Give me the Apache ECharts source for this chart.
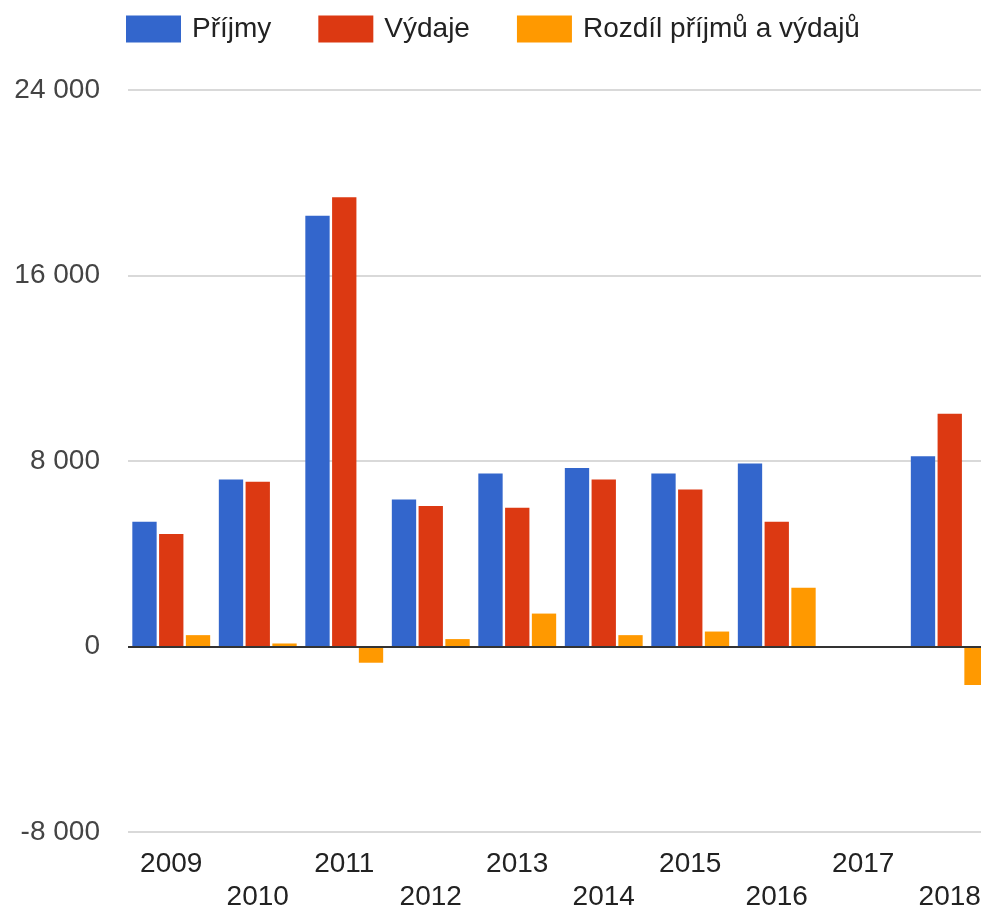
<!DOCTYPE html>
<html>
<head>
<meta charset="utf-8">
<script src="https://cdn.jsdelivr.net/npm/echarts@6/dist/echarts.min.js"></script>
<style>html,body{margin:0;padding:0;background:#fff}#c{width:981px;height:910px}</style>
</head>
<body>
<div id="c"></div>
<script>
const years = ['2009','2010','2011','2012','2013','2014','2015','2016','2017','2018'];
const prijmy = [5380, 7200, 18580, 6340, 7460, 7700, 7460, 7890, 0, 8200];
const vydaje = [4850, 7100, 19370, 6060, 5980, 7200, 6770, 5380, 0, 10040];
const rozdil = [490, 130, -700, 320, 1420, 490, 645, 2530, 20, -1660];
const seriesNames = ['Příjmy', 'Výdaje', 'Rozdíl příjmů a výdajů'];
const colors = ['#3366cc', '#dc3912', '#ff9900'];

const fmt = v => {
  const s = Math.abs(v).toString().replace(/\B(?=(\d{3})+(?!\d))/g, ' ');
  return (v < 0 ? '-' : '') + s;
};

const chart = echarts.init(document.getElementById('c'));
const data = [prijmy, vydaje, rozdil];
chart.setOption({
  animation: false,
  color: colors,
  textStyle: { fontFamily: 'Arial, "Liberation Sans", sans-serif' },
  legend: {
    left: 126, top: 15, padding: 0,
    icon: 'rect',
    itemWidth: 55, itemHeight: 27, itemGap: 47,
    textStyle: { fontSize: 28, color: '#222', padding: [4, 0, 0, 6] },
    data: seriesNames
  },
  grid: { left: 128, right: -12, top: 90, bottom: 78, containLabel: false, outerBoundsMode: 'none' },
  xAxis: {
    type: 'category',
    data: years,
    axisLine: { show: false },
    axisTick: { show: false },
    axisLabel: {
      interval: 0, fontSize: 28, color: '#222', margin: 16, lineHeight: 33,
      formatter: (v, i) => (i % 2 ? '\n' + v : v)
    }
  },
  yAxis: {
    type: 'value',
    min: -8000, max: 24000, interval: 8000,
    axisLine: { show: false },
    axisTick: { show: false },
    axisLabel: { fontSize: 28, color: '#444', margin: 28, formatter: fmt },
    splitLine: { lineStyle: { color: '#cccccc', width: 1.5 } }
  },
  series: data.map((d, i) => ({
    name: seriesNames[i],
    type: 'bar',
    data: d,
    barGap: '10%',
    barCategoryGap: '10%',
    itemStyle: { color: colors[i] },
    markLine: i === 0 ? {
      silent: true, symbol: 'none', label: { show: false },
      lineStyle: { color: '#333', width: 2, type: 'solid' },
      data: [{ yAxis: 0 }]
    } : undefined
  }))
});
</script>
</body>
</html>
